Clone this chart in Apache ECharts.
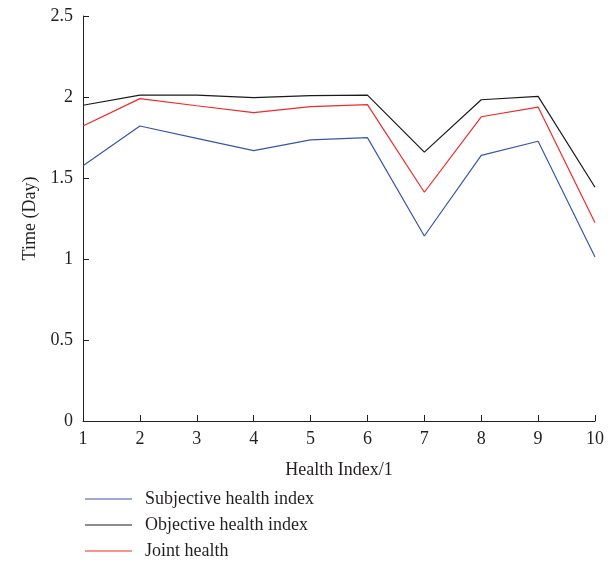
<!DOCTYPE html>
<html><head><meta charset="utf-8">
<script src="https://cdn.jsdelivr.net/npm/echarts@6/dist/echarts.min.js"></script>
<style>html,body{margin:0;padding:0;background:#fff}#c{width:615px;height:562px}</style>
</head><body><div id="c"></div>
<script>
const categories = ['1','2','3','4','5','6','7','8','9','10'];
const subjective = [1.576, 1.821, 1.745, 1.669, 1.735, 1.749, 1.142, 1.640, 1.727, 1.012];
const objective = [1.949, 2.012, 2.012, 1.996, 2.008, 2.012, 1.660, 1.983, 2.004, 1.443];
const joint = [1.821, 1.990, 1.946, 1.903, 1.940, 1.953, 1.412, 1.878, 1.938, 1.224];
const seriesNames = ['Subjective health index', 'Objective health index', 'Joint health'];

const font = 'Liberation Serif';
const txt = '#231f20';
const chart = echarts.init(document.getElementById('c'));
chart.setOption({
  animation: false,
  textStyle: {fontFamily: font},
  grid: {left: 83, right: 20, top: 16, bottom: 141, containLabel: false},
  legend: {
    orient: 'vertical', left: 80, top: 485, height: 80, width: 400,
    icon: 'rect', itemWidth: 47, itemHeight: 1.2, itemGap: 8,
    data: seriesNames,
    textStyle: {fontFamily: font, fontSize: 18, color: txt, padding: [0, 0, 0, 8]}
  },
  xAxis: {
    type: 'category', data: categories, boundaryGap: false,
    name: 'Health Index/1', nameLocation: 'middle', nameGap: 40,
    nameTextStyle: {fontFamily: font, fontSize: 18, color: txt},
    axisLine: {lineStyle: {color: txt, width: 1}},
    axisTick: {inside: true, length: 6, lineStyle: {color: txt}, alignWithLabel: true},
    axisLabel: {fontFamily: font, fontSize: 18, color: txt, margin: 9},
    splitLine: {show: false}
  },
  yAxis: {
    type: 'value', min: 0, max: 2.5, interval: 0.5,
    name: 'Time (Day)', nameLocation: 'middle', nameGap: 44,
    nameTextStyle: {fontFamily: font, fontSize: 18, color: txt},
    axisLine: {show: true, lineStyle: {color: txt, width: 1}},
    axisTick: {show: true, inside: true, length: 6, lineStyle: {color: txt}},
    axisLabel: {fontFamily: font, fontSize: 18, color: txt, margin: 10},
    splitLine: {show: false}
  },
  series: [
    {name: seriesNames[0], type: 'line', data: subjective, symbol: 'none', lineStyle: {color: '#3a55a8', width: 1.2}, itemStyle: {color: '#3a55a8'}},
    {name: seriesNames[1], type: 'line', data: objective, symbol: 'none', lineStyle: {color: '#1a1a1a', width: 1.2}, itemStyle: {color: '#1a1a1a'}},
    {name: seriesNames[2], type: 'line', data: joint, symbol: 'none', lineStyle: {color: '#ee2a2a', width: 1.2}, itemStyle: {color: '#ee2a2a'}}
  ]
});
</script></body></html>
